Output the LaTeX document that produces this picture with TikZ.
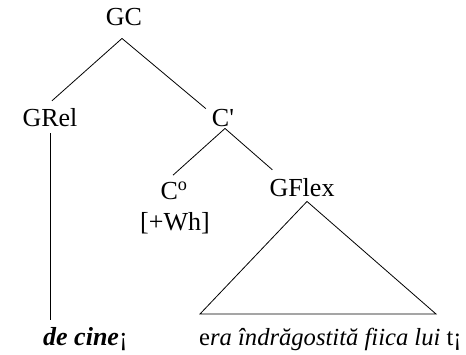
\documentclass[tikz,border=0pt]{standalone}
\usepackage{fontspec}
\newfontfamily\treefont{Liberation Serif}
\usetikzlibrary{positioning,calc}
\tikzset{lbl/.style={inner sep=0pt, anchor=base, font=\treefont\fontsize{26}{30}\selectfont}}
\tikzset{leaf/.style={lbl, anchor=base west}}
\tikzset{branch/.style={draw, line width=0.8pt}}

\begin{document}
\begin{tikzpicture}[x=1pt, y=1pt]
		\useasboundingbox (0,0) rectangle (466,355);

		\node [lbl]		(GC)	at (124,329) {GC};
		\node [lbl]		(GRel)	at (50,228) {GRel};
		\node [lbl]		(Cbar)	at (223,228) {C'};
		\node [lbl]		(Czero)	at (174,155) {C\textsuperscript{o}};
		\node [lbl]		(Wh)	at (175,124) {[+Wh]};
		\node [lbl]		(GFlex)	at (302,158) {GFlex};
		\node [leaf]	(decine) at (43,9) {\textbf{\textit{de cine}}¡};
		\node [leaf, font=\treefont\fontsize{24.6}{30}\selectfont]
						(era)	at (199,9) {e\textit{ra îndrăgostită fiica lui} t¡};

		\coordinate (TL) at (200,41);
		\coordinate (TR) at (436,41);

		\path [branch] ([shift={(-2,-12)}]GC.south) -- ([shift={(2,8)}]GRel.north);
		\path [branch] ([shift={(-2,-12)}]GC.south) -- ([shift={(-6,1)}]Cbar.north west);
		\path [branch] ([shift={(2,-1)}]Cbar.south) -- ([shift={(-1,7)}]Czero.north);
		\path [branch] ([shift={(2,-1)}]Cbar.south) -- ([shift={(3,9)}]GFlex.north west);
		\path [branch] ([yshift=-6]GRel.south) -- ([yshift=8]GRel.south |- decine.north);
		\path [branch] ([shift={(5,-4)}]GFlex.south) -- (TL) -- (TR) -- cycle;
	\end{tikzpicture}
\end{document}
